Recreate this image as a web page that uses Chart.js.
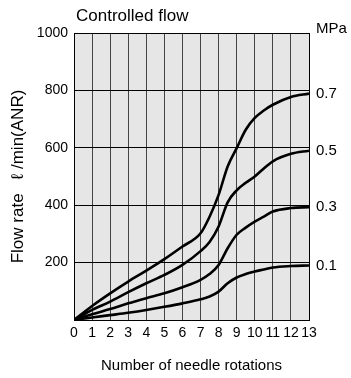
<!DOCTYPE html>
<html>
<head>
<meta charset="utf-8">
<style>
  html, body { margin: 0; padding: 0; background: #fff; }
  #wrap { width: 351px; height: 378px; position: relative; }
</style>
<script src="https://cdn.jsdelivr.net/npm/chart.js@4"></script>
</head>
<body>
<div id="wrap"><canvas id="flowChart"></canvas></div>
<script>
// needle rotations
const rotations = [0, 1, 2, 3, 4, 5, 6, 7, 7.5, 8, 8.5, 9, 9.5, 10, 10.5, 11, 12, 13];
// flow rate l/min(ANR) for each supply pressure
const flow07 = [0, 49, 93, 134, 172, 212, 256, 302, 360, 436, 535, 599, 663, 704, 730, 750, 777, 789];
const flow05 = [0, 35, 64, 97, 128, 157, 192, 240, 272, 326, 410, 452, 478, 500, 528, 553, 579, 590];
const flow03 = [0, 20, 38, 58, 76, 93, 114, 140, 160, 192, 250, 297, 322, 343, 360, 378, 390, 393];
const flow01 = [0, 9, 17, 25, 35, 46, 58, 72, 82, 99, 128, 148, 160, 169, 176, 183, 188, 190];
const pressures = ['0.7', '0.5', '0.3', '0.1'];
const yTicks = [200, 400, 600, 800, 1000];

document.addEventListener('DOMContentLoaded', () => {
    const FONT = "'Liberation Sans', Arial, sans-serif";
    const seriesList = [flow07, flow05, flow03, flow01];

    const toPoints = (vals) => vals.map((v, i) => ({ x: rotations[i], y: v }));

    // gray plot background + free text (title, unit)
    const decor = {
        id: 'decor',
        beforeDraw(chart) {
            const { ctx, chartArea: a } = chart;
            ctx.save();
            ctx.fillStyle = '#e6e6e6';
            ctx.fillRect(a.left, a.top, a.right - a.left, a.bottom - a.top);
            ctx.restore();
        },
        afterDraw(chart) {
            const { ctx } = chart;
            ctx.save();
            ctx.fillStyle = '#000';
            ctx.textBaseline = 'middle';
            ctx.font = '17px ' + FONT;
            ctx.fillText('Controlled flow', 76, 16);
            ctx.font = '15px ' + FONT;
            ctx.fillText('MPa', 316, 29);
            ctx.restore();
        }
    };

    new Chart(document.getElementById('flowChart'), {
        type: 'line',
        data: {
            datasets: seriesList.map((vals, i) => ({
                label: pressures[i] + ' MPa',
                data: toPoints(vals),
                borderColor: '#000',
                borderWidth: 2.6,
                pointRadius: 0,
                fill: false,
                cubicInterpolationMode: 'monotone'
            }))
        },
        options: {
            responsive: true,
            maintainAspectRatio: false,
            animation: false,
            layout: { padding: { top: 33, left: 0, right: 0, bottom: 0 } },
            plugins: {
                legend: { display: false },
                tooltip: { enabled: false }
            },
            scales: {
                x: {
                    type: 'linear',
                    min: 0,
                    max: 13,
                    afterFit: (s) => { s.height = 58; },
                    ticks: {
                        stepSize: 1,
                        autoSkip: false,
                        maxRotation: 0,
                        padding: 5,
                        color: '#000',
                        font: { family: FONT, size: 14 }
                    },
                    grid: { color: '#444', lineWidth: 1, drawTicks: false },
                    border: { color: '#000', width: 1 },
                    title: {
                        display: true,
                        text: 'Number of needle rotations',
                        color: '#000',
                        font: { family: FONT, size: 15 },
                        padding: { top: 0, bottom: 3 }
                    }
                },
                y: {
                    min: 0,
                    max: 1000,
                    afterFit: (s) => { s.width = 74; },
                    afterBuildTicks: (s) => { s.ticks = [0].concat(yTicks).map(v => ({ value: v })); },
                    ticks: {
                        padding: 6,
                        color: '#000',
                        font: { family: FONT, size: 14 },
                        callback: (v) => (v === 0 ? '' : v)
                    },
                    grid: { color: '#000', lineWidth: 1, drawTicks: false },
                    border: { color: '#000', width: 1 },
                    title: {
                        display: true,
                        text: 'Flow rate   ℓ /min(ANR)',
                        color: '#000',
                        font: { family: FONT, size: 17 },
                        padding: { top: 8, bottom: 0 }
                    }
                },
                y2: {
                    position: 'right',
                    min: 0,
                    max: 1000,
                    afterFit: (s) => { s.width = 42; },
                    afterBuildTicks: (s) => {
                        s.ticks = seriesList.map(vals => ({ value: vals[vals.length - 1] }));
                    },
                    ticks: {
                        padding: 7,
                        color: '#000',
                        font: { family: FONT, size: 15 },
                        callback: (v, i) => pressures[i]
                    },
                    grid: { display: false, drawTicks: false },
                    border: { color: '#000', width: 1 }
                }
            }
        },
        plugins: [decor]
    });
});
</script>
</body>
</html>
